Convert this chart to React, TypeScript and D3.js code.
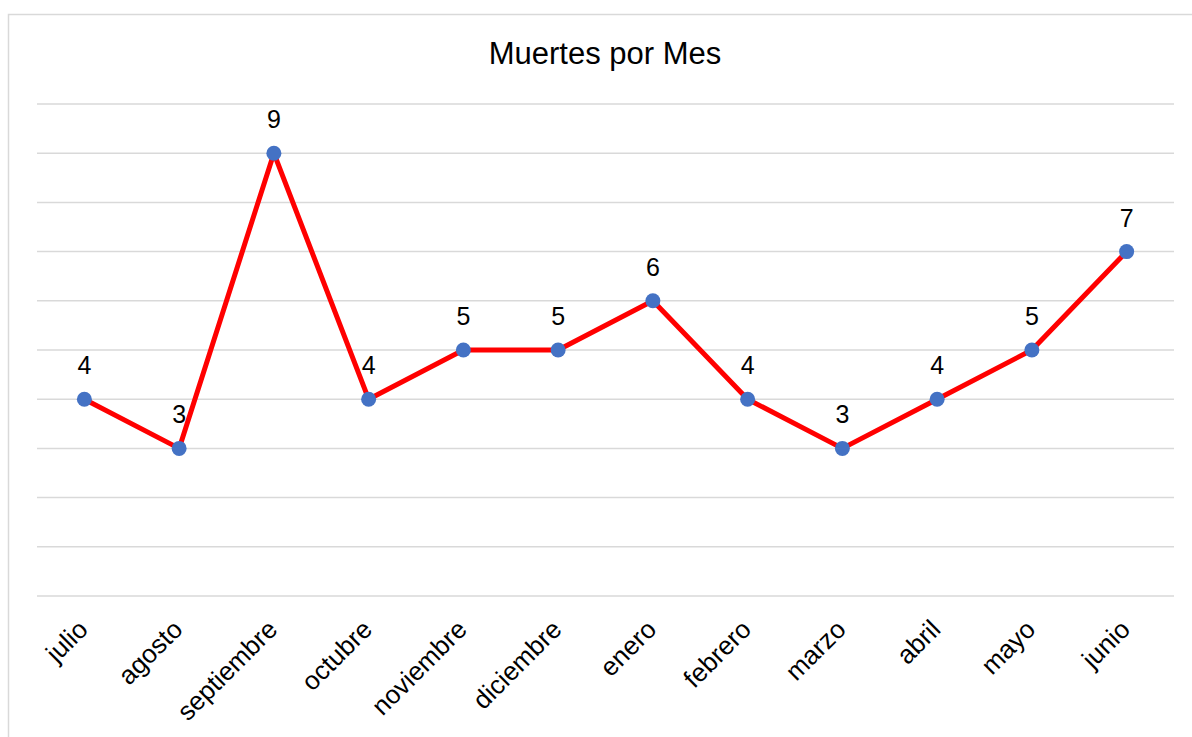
import React from "react";
import * as d3 from "d3";

const months = ["julio", "agosto", "septiembre", "octubre", "noviembre", "diciembre", "enero", "febrero", "marzo", "abril", "mayo", "junio"];
const deaths = [4, 3, 9, 4, 5, 5, 6, 4, 3, 4, 5, 7];
const yTicks = [0, 1, 2, 3, 4, 5, 6, 7, 8, 9, 10];
const title = "Muertes por Mes";

const W = 1192;
const H = 737;
const plot = { left: 37, right: 1174, top: 104, bottom: 596 };
const font = "Liberation Sans, Arial, sans-serif";

export default function App() {
  const x = d3.scaleBand<string>().domain(months).range([plot.left, plot.right]);
  const y = d3.scaleLinear().domain([0, 10]).range([plot.bottom, plot.top]);
  const cx = (m: string) => (x(m) as number) + x.bandwidth() / 2;
  const line = d3
    .line<number>()
    .x((_, i) => cx(months[i]))
    .y((d) => y(d));

  return (
    <div style={{ position: "absolute", left: 0, top: 0 }}>
      <svg width={W} height={H} style={{ display: "block", background: "#fff" }}>
        <rect x={8.5} y={14.5} width={W} height={H} fill="#fff" stroke="#d9d9d9" strokeWidth={1.5} />
        <text x={605} y={64} textAnchor="middle" fontFamily={font} fontSize={31} fill="#000">
          {title}
        </text>
        {yTicks.map((t) => (
          <line key={t} x1={plot.left} x2={plot.right} y1={y(t)} y2={y(t)} stroke="#d9d9d9" strokeWidth={1.5} />
        ))}
        <path d={line(deaths) || ""} fill="none" stroke="#ff0000" strokeWidth={5} strokeLinejoin="round" />
        {deaths.map((d, i) => (
          <circle key={i} cx={cx(months[i])} cy={y(d)} r={7.5} fill="#4472c4" />
        ))}
        {deaths.map((d, i) => (
          <text key={"l" + i} x={cx(months[i])} y={y(d) - 25} textAnchor="middle" fontFamily={font} fontSize={25} fill="#000">
            {d}
          </text>
        ))}
        {months.map((m) => (
          <text
            key={m}
            transform={`translate(${cx(m) + 5},${plot.bottom + 35}) rotate(-45)`}
            textAnchor="end"
            fontFamily={font}
            fontSize={26}
            fill="#000"
          >
            {m}
          </text>
        ))}
      </svg>
    </div>
  );
}
